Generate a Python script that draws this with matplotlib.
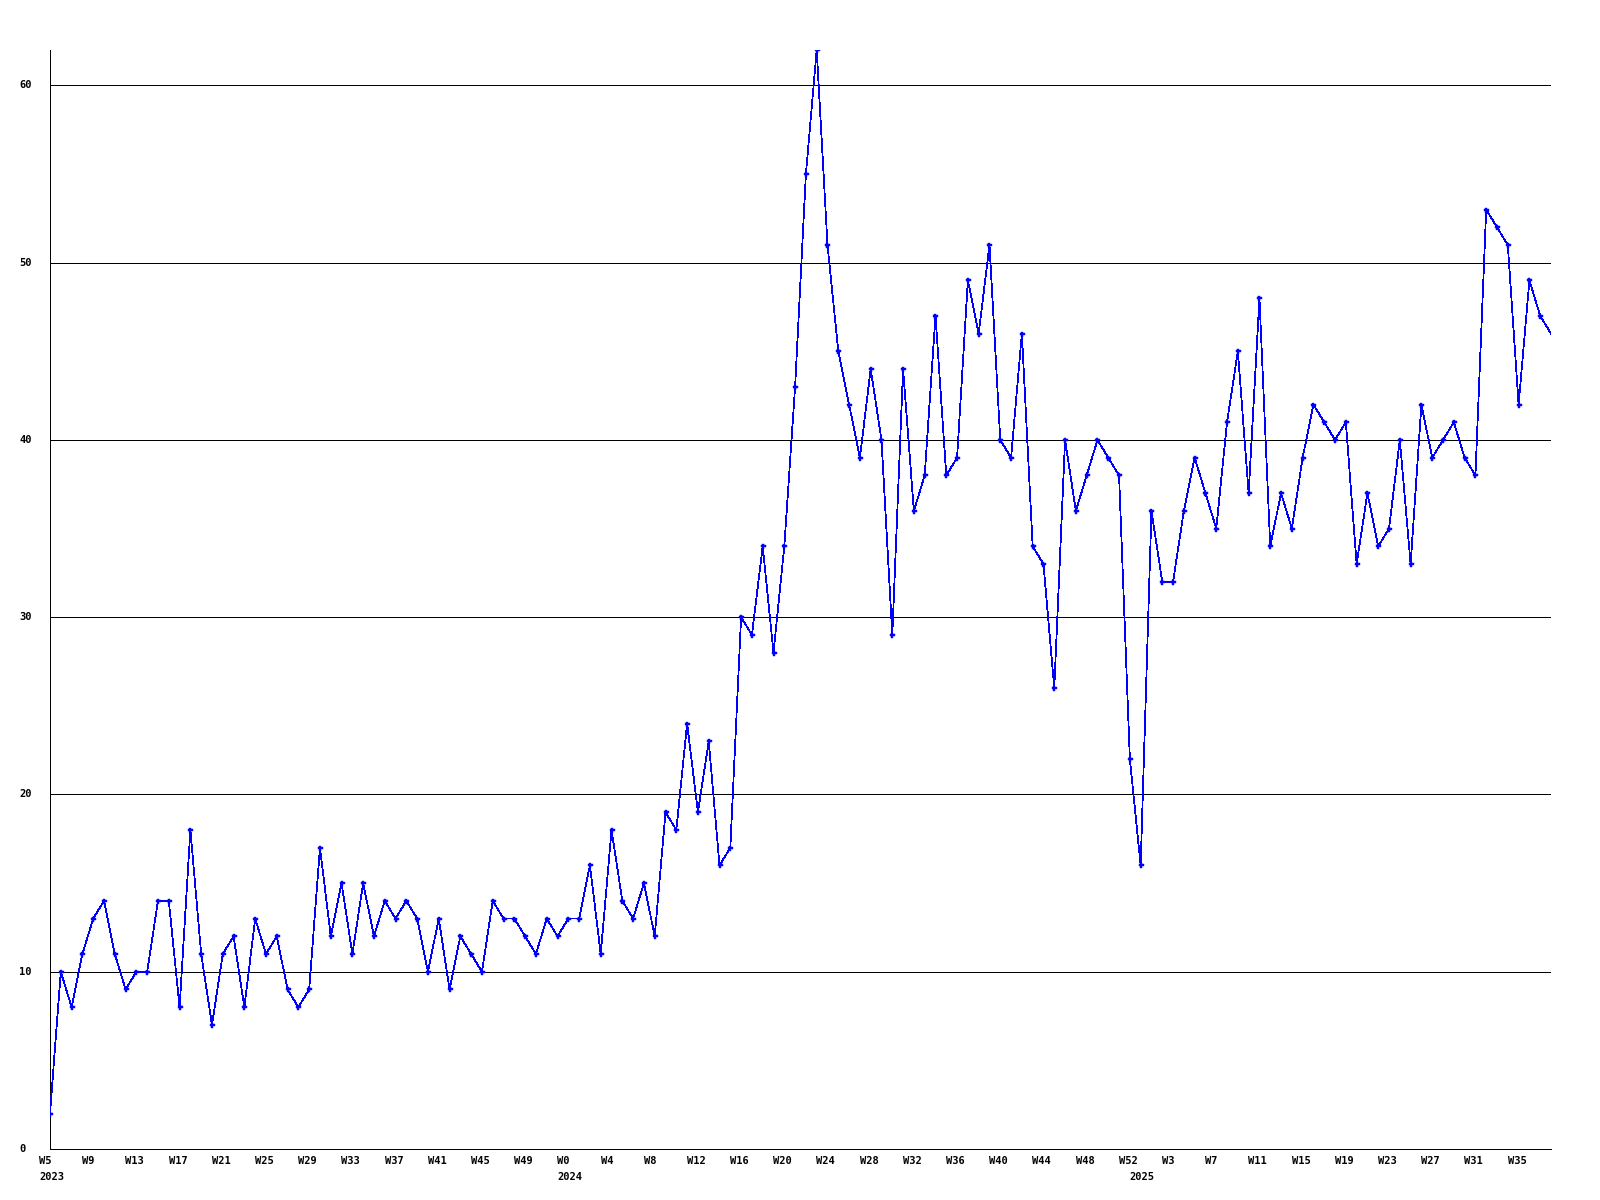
import matplotlib
matplotlib.use("Agg")
import matplotlib.pyplot as plt

# --- data -------------------------------------------------------------
values_2023 = [2, 10, 8, 11, 13, 14, 11, 9, 10, 10, 14, 14, 8, 18, 11, 7, 11, 12, 8, 13,
               11, 12, 9, 8, 9, 17, 12, 15, 11, 15, 12, 14, 13, 14, 13, 10, 13, 9, 12, 11,
               10, 14, 13, 13, 12, 11, 13, 12]
values_2024 = [13, 13, 16, 11, 18, 14, 13, 15, 12, 19, 18, 24, 19, 23, 16, 17, 30, 29, 34, 28,
               34, 43, 55, 62, 51, 45, 42, 39, 44, 40, 29, 44, 36, 38, 47, 38, 39, 49, 46, 51,
               40, 39, 46, 34, 33, 26, 40, 36, 38, 40, 39, 38, 22]
values_2025 = [16, 36, 32, 32, 36, 39, 37, 35, 41, 45, 37, 48, 34, 37, 35, 39, 42, 41, 40, 41,
               33, 37, 34, 35, 40, 33, 42, 39, 40, 41, 39, 38, 53, 52, 51, 42, 49, 47, 46]

week_labels = ["W5", "W9", "W13", "W17", "W21", "W25", "W29", "W33", "W37", "W41", "W45", "W49",
               "W0", "W4", "W8", "W12", "W16", "W20", "W24", "W28", "W32", "W36", "W40", "W44",
               "W48", "W52", "W3", "W7", "W11", "W15", "W19", "W23", "W27", "W31", "W35"]
year_labels = ["2023", "2024", "2025"]
y_ticks = [0, 10, 20, 30, 40, 50, 60]

values = values_2023 + values_2024 + values_2025
x = list(range(len(values)))
year_starts = [0, len(values_2023), len(values_2023) + len(values_2024)]
week_positions = list(range(0, len(values), 4))[:len(week_labels)]

# --- figure -----------------------------------------------------------
PX = 0.72  # one pixel in points at 100 dpi
fig = plt.figure(figsize=(16, 12), dpi=100)
ax = fig.add_axes([50 / 1600, 51 / 1200, 1501 / 1600, 1099 / 1200])

for v in y_ticks[1:]:
    ax.axhline(v, color="black", lw=PX, zorder=1, antialiased=False)

ax.plot(x, values, color="#0000ff", lw=0.55, antialiased=False, zorder=3)
ax.plot(x[:-1], values[:-1], ls="none", marker="P", ms=3.6,
        mec="#0000ff", mfc="#0000ff", mew=0.3, zorder=4)

ax.set_xlim(0, len(values) - 1)
ax.set_ylim(0, 62)
ax.set_xticks([])
ax.set_yticks([])
for s in ["top", "right"]:
    ax.spines[s].set_visible(False)
for s in ["left", "bottom"]:
    ax.spines[s].set_color("black")
    ax.spines[s].set_linewidth(PX)
    ax.spines[s].set_antialiased(False)

font = dict(family="DejaVu Sans Mono", weight="bold", size=7.5, color="black")

for v in y_ticks:
    ax.annotate(str(v), xy=(0, v), xycoords=("axes fraction", "data"),
                xytext=(-31, 0), textcoords="offset pixels",
                ha="left", va="center", **font)

for pos, lab in zip(week_positions, week_labels):
    ax.annotate(lab, xy=(pos, 0), xycoords=("data", "axes fraction"),
                xytext=(-11, -12), textcoords="offset pixels",
                ha="left", va="center", annotation_clip=False, **font)

for pos, lab in zip(year_starts, year_labels):
    ax.annotate(lab, xy=(pos, 0), xycoords=("data", "axes fraction"),
                xytext=(-11, -28), textcoords="offset pixels",
                ha="left", va="center", annotation_clip=False, **font)

fig.savefig("out.png", dpi=100, facecolor="white")
